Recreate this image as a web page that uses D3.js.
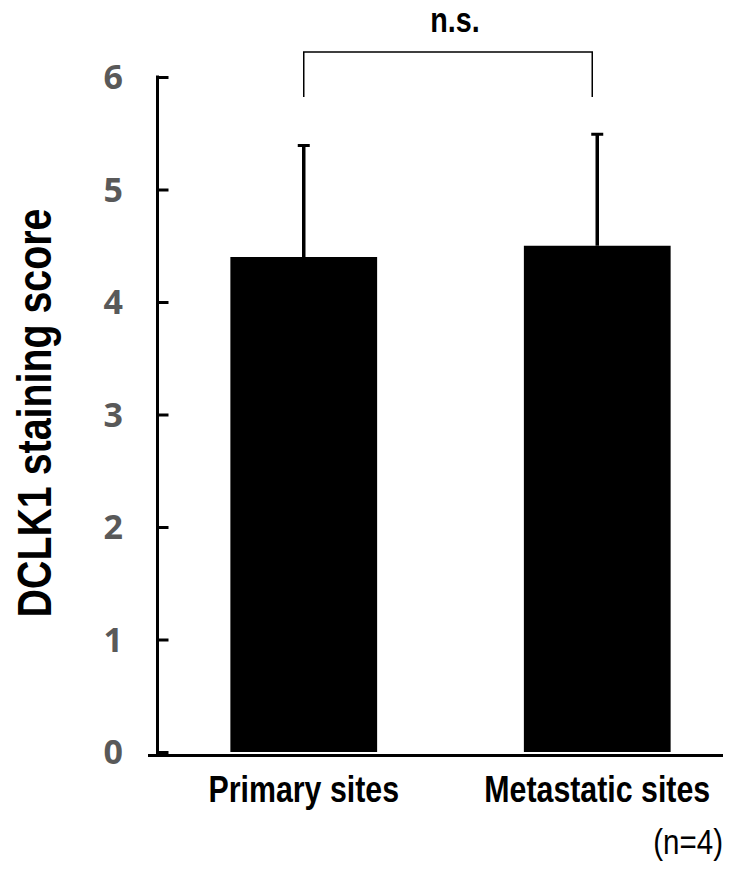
<!DOCTYPE html>
<html>
<head>
<meta charset="utf-8">
<script src="https://cdn.jsdelivr.net/npm/d3@7.9.0/dist/d3.min.js"></script>
<style>
  body { margin: 0; background: #fff; }
  svg { display: block; }
  .narrow { font-family: "Liberation Sans", Arial, sans-serif; }
</style>
</head>
<body>
<svg id="chart" width="738" height="871"></svg>
<script>
// data
const categories = ['Primary sites', 'Metastatic sites'];
const means = [4.4, 4.5];
const errors = [1.0, 1.0];
const yTicks = [0, 1, 2, 3, 4, 5, 6];
const sigLabel = 'n.s.';
const nLabel = '(n=4)';

const svg = d3.select('#chart');
const squeeze = 0.82; // fake an Arial Narrow look

// scales
let x = d3.scaleBand().domain(categories).range([157, 744]).paddingInner(0.5).paddingOuter(0.25);
let y = d3.scaleLinear().domain([0, 6]).range([752, 77]);

// bars
svg.selectAll('rect.bar')
  .data(categories)
  .join('rect')
  .attr('class', 'bar')
  .attr('x', (d) => x(d))
  .attr('y', (d, i) => y(means[i]))
  .attr('width', x.bandwidth())
  .attr('height', (d, i) => y(0) - y(means[i]))
  .attr('fill', '#000');

// error bars (upper only)
categories.forEach((c, i) => {
  let cx = x(c) + x.bandwidth() / 2;
  svg.append('line')
    .attr('x1', cx).attr('x2', cx)
    .attr('y1', y(means[i])).attr('y2', y(means[i] + errors[i]))
    .attr('stroke', '#000').attr('stroke-width', 3.5);
  svg.append('line')
    .attr('x1', cx - 6).attr('x2', cx + 6)
    .attr('y1', y(means[i] + errors[i]) + 1).attr('y2', y(means[i] + errors[i]) + 1)
    .attr('stroke', '#000').attr('stroke-width', 3);
});

// y axis: line, inside ticks, grey bold labels
let yAxis = d3.axisRight(y).tickValues(yTicks).tickSize(11).tickFormat('');
let gy = svg.append('g').attr('transform', 'translate(157.5,0)').call(yAxis);
gy.select('.domain').remove();
gy.selectAll('.tick line').attr('stroke', '#000').attr('stroke-width', 3);
svg.append('line')
  .attr('x1', 157.5).attr('x2', 157.5)
  .attr('y1', y(6) - 1.5).attr('y2', 755)
  .attr('stroke', '#000').attr('stroke-width', 3);

svg.selectAll('text.ytick')
  .data(yTicks)
  .join('text')
  .attr('class', 'ytick')
  .attr('x', 123)
  .attr('y', (d) => y(d))
  .attr('dy', '0.36em')
  .attr('text-anchor', 'end')
  .attr('font-family', '"Open Sans", sans-serif')
  .attr('font-weight', 700)
  .attr('font-size', 34)
  .attr('fill', '#595959')
  .text((d) => d);

// x axis line
svg.append('line')
  .attr('x1', 148).attr('x2', 723)
  .attr('y1', 755.5).attr('y2', 755.5)
  .attr('stroke', '#000').attr('stroke-width', 3);

// category labels
svg.selectAll('text.cat')
  .data(categories)
  .join('text')
  .attr('class', 'cat narrow')
  .attr('transform', (d) => `translate(${x(d) + x.bandwidth() / 2},802) scale(${squeeze},1)`)
  .attr('text-anchor', 'middle')
  .attr('font-weight', 700)
  .attr('font-size', 37)
  .text((d) => d);

// y axis title
svg.append('text')
  .attr('class', 'narrow')
  .attr('transform', `translate(51,413) rotate(-90) scale(${squeeze},1)`)
  .attr('text-anchor', 'middle')
  .attr('font-weight', 700)
  .attr('font-size', 48)
  .text('DCLK1 staining score');

// significance bracket
let x0 = x(categories[0]) + x.bandwidth() / 2;
let x1 = x(categories[1]) + x.bandwidth() / 2 - 5;
svg.append('path')
  .attr('d', `M${x0},97 V52 H${x1} V97`)
  .attr('fill', 'none')
  .attr('stroke', '#000')
  .attr('stroke-width', 1.5);

svg.append('text')
  .attr('class', 'narrow')
  .attr('transform', `translate(${(x0 + x1) / 2 + 7},32) scale(${squeeze},1)`)
  .attr('text-anchor', 'middle')
  .attr('font-weight', 700)
  .attr('font-size', 35)
  .text(sigLabel);

// sample size note
svg.append('text')
  .attr('class', 'narrow')
  .attr('transform', `translate(723,854) scale(${squeeze},1)`)
  .attr('text-anchor', 'end')
  .attr('font-size', 36)
  .text(nLabel);
</script>
</body>
</html>
